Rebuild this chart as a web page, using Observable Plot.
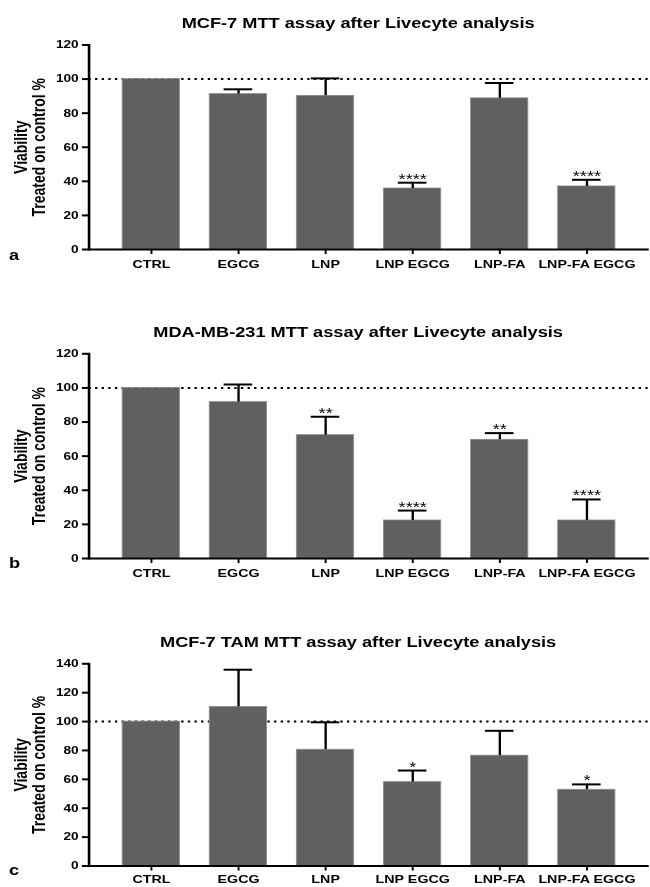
<!DOCTYPE html>
<html>
<head>
<meta charset="utf-8">
<script src="https://cdn.jsdelivr.net/npm/d3@7"></script>
<script src="https://cdn.jsdelivr.net/npm/@observablehq/plot@0.6"></script>
<style>
  html, body { margin: 0; padding: 0; background: #fff; }
  body { width: 650px; height: 887px; overflow: hidden; position: relative; }
  #wrap { position: absolute; left: 0; top: 0; width: 500px; height: 887px; transform: scaleX(1.3); transform-origin: 0 0; font-family: "Liberation Sans", Arial, sans-serif; }
  .title { position: absolute; left: 0; width: 551px; text-align: center; font-weight: bold; font-size: 14px; line-height: 14px; color: #000; white-space: nowrap; }
  .letter { position: absolute; left: 7px; font-weight: bold; font-size: 14px; line-height: 14px; color: #000; }
  .panel { position: absolute; left: 0; }
</style>
</head>
<body>
<div id="wrap"></div>
<script>
// ---- data ----
const categories = ["CTRL", "EGCG", "LNP", "LNP EGCG", "LNP-FA", "LNP-FA EGCG"];

const titles = [
  "MCF-7 MTT assay after Livecyte analysis",
  "MDA-MB-231 MTT assay after Livecyte analysis",
  "MCF-7 TAM MTT assay after Livecyte analysis"
];
const panelLetters = ["a", "b", "c"];
const yLabel = "Viability\nTreated on control %";
const controlLevel = 100;

// panel a: MCF-7
const mcf7Mean = [100, 91.2, 90.2, 35.8, 88.7, 37.0];
const mcf7Sd = [0, 2.8, 10.2, 3.4, 9.0, 3.9];
const mcf7Stars = ["", "", "", "****", "", "****"];
const ticksA = [0, 20, 40, 60, 80, 100, 120];

// panel b: MDA-MB-231
const mdaMean = [100, 91.7, 72.3, 22.3, 69.6, 22.3];
const mdaSd = [0, 10.3, 10.8, 5.8, 3.9, 12.3];
const mdaStars = ["", "", "**", "****", "**", "****"];
const ticksB = [0, 20, 40, 60, 80, 100, 120];

// panel c: MCF-7 TAM
const tamMean = [100, 110.2, 80.5, 58.1, 76.4, 52.8];
const tamSd = [0, 25.7, 19.0, 8.0, 17.2, 3.7];
const tamStars = ["", "", "", "*", "", "*"];
const ticksC = [0, 20, 40, 60, 80, 100, 120, 140];

const FONT = "'Liberation Sans', Arial, sans-serif";

function panel({mean, sd, stars, ticks, height, marginTop, marginBottom, xPad}) {
  const data = categories.map((c, i) => ({cat: c, mean: mean[i], sd: sd[i], hi: mean[i] + sd[i], star: stars[i]}));
  const errData = data.filter(d => d.sd > 0);
  const starData = data.filter(d => d.star);
  return Plot.plot({
    width: 500,
    height,
    marginLeft: 68,
    marginRight: 1,
    marginTop,
    marginBottom,
    style: {fontFamily: FONT, overflow: "visible", background: "transparent", color: "#000"},
    x: {domain: categories, padding: 0.34},
    y: {domain: [0, ticks[ticks.length - 1]]},
    marks: [
      Plot.ruleY([controlLevel], {stroke: "#000", strokeWidth: 2, strokeDasharray: "1.8,3.3"}),
      Plot.barY(data, {x: "cat", y: "mean", fill: "#606060", stroke: "#8e8e8e", strokeWidth: 0.7}),
      Plot.ruleX(errData, {x: "cat", y1: "mean", y2: "hi", stroke: "#000", strokeWidth: 1.8}),
      Plot.tickY(errData, {x: "cat", y: "hi", stroke: "#000", strokeWidth: 2, insetLeft: 11, insetRight: 11}),
      Plot.text(starData, {x: "cat", y: "hi", text: "star", lineAnchor: "bottom", dy: 1, fontSize: 14, fill: "#000"}),
      Plot.ruleY([0], {stroke: "#000", strokeWidth: 2}),
      Plot.frame({anchor: "left", stroke: "#000", strokeWidth: 2}),
      Plot.axisY({ticks, tickSize: 5, tickPadding: 3, strokeWidth: 2, fontSize: 10.5, fontWeight: "bold", label: null}),
      Plot.axisX({tickSize: 5, tickPadding: xPad, strokeWidth: 1.5, fontSize: 11, fontWeight: "bold", label: null}),
      Plot.text([yLabel], {text: d => d, frameAnchor: "left", rotate: -90, dx: -58, lineAnchor: "top", textAnchor: "middle", fontSize: 14, fontWeight: "bold", fill: "#000"})
    ]
  });
}

const wrap = document.getElementById("wrap");

const panels = [
  {mean: mcf7Mean, sd: mcf7Sd, stars: mcf7Stars, ticks: ticksA, top: 30, height: 260, marginTop: 14.5, marginBottom: 41, xPad: 6, titleTop: 15.5, letterTop: 248},
  {mean: mdaMean, sd: mdaSd, stars: mdaStars, ticks: ticksB, top: 340, height: 240, marginTop: 13.3, marginBottom: 22, xPad: 6, titleTop: 325, letterTop: 556},
  {mean: tamMean, sd: tamSd, stars: tamStars, ticks: ticksC, top: 650, height: 237, marginTop: 13.3, marginBottom: 21.5, xPad: 4, titleTop: 635, letterTop: 863}
];

panels.forEach((p, i) => {
  const t = document.createElement("div");
  t.className = "title";
  t.style.top = p.titleTop + "px";
  t.textContent = titles[i];
  wrap.appendChild(t);

  const holder = document.createElement("div");
  holder.className = "panel";
  holder.style.top = p.top + "px";
  holder.appendChild(panel(p));
  wrap.appendChild(holder);

  const l = document.createElement("div");
  l.className = "letter";
  l.style.top = p.letterTop + "px";
  l.textContent = panelLetters[i];
  wrap.appendChild(l);
});
</script>
</body>
</html>
